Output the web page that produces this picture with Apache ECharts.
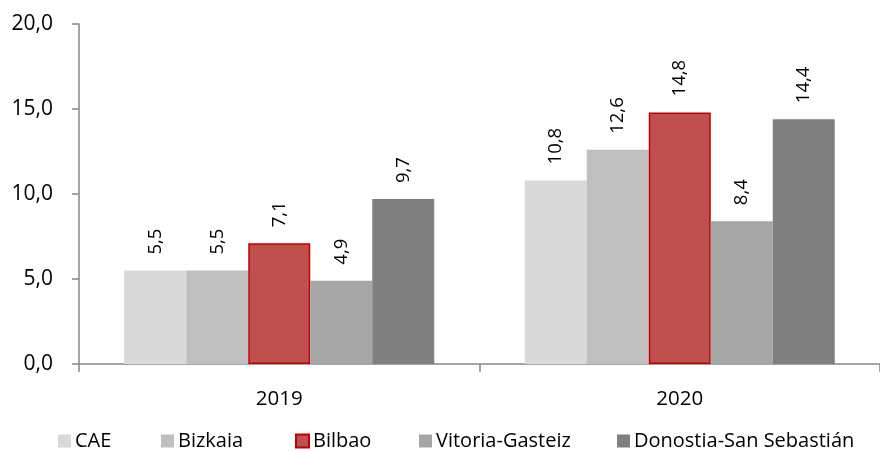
<!DOCTYPE html>
<html>
<head>
<meta charset="utf-8">
<script src="https://cdn.jsdelivr.net/npm/echarts@6/dist/echarts.min.js"></script>
<style>html,body{margin:0;padding:0;background:#fff;}#c{width:880px;height:451px;}</style>
</head>
<body>
<div id="c"></div>
<script>
const categories = ['2019', '2020'];
const seriesNames = ['CAE', 'Bizkaia', 'Bilbao', 'Vitoria-Gasteiz', 'Donostia-San Sebastián'];
const cae = [5.5, 10.8];
const bizkaia = [5.5, 12.6];
const bilbao = [7.1, 14.8];
const vitoria = [4.9, 8.4];
const donostia = [9.7, 14.4];
const yTicks = [0, 5, 10, 15, 20];

const colors = ['#d9d9d9', '#bfbfbf', '#c0504d', '#a6a6a6', '#7f7f7f'];
const values = [cae, bizkaia, bilbao, vitoria, donostia];
const legendLeft = [58, 161, 295, 419, 617];
const FONT = 'Open Sans';

const chart = echarts.init(document.getElementById('c'), null, {renderer: 'canvas'});
const fmt = v => v.toFixed(1).replace('.', ',');

chart.setOption({
  animation: false,
  textStyle: {fontFamily: FONT},
  grid: {left: 79, top: 24, width: 806, height: 340, containLabel: false},
  legend: seriesNames.map((name, i) => ({
    left: legendLeft[i], top: 431, padding: 0,
    itemWidth: 13, itemHeight: 13, itemGap: 0,
    icon: 'rect',
    textStyle: {fontFamily: FONT, fontSize: 20, color: '#000', padding: [0, 0, 0, -1]},
    data: [name]
  })),
  xAxis: {
    type: 'category', data: categories,
    axisLine: {lineStyle: {color: '#868686', width: 1.5}},
    axisTick: {show: true, length: 8, lineStyle: {color: '#868686', width: 1.5}},
    axisLabel: {fontFamily: FONT, fontSize: 20.5, color: '#000', margin: 25}
  },
  yAxis: {
    type: 'value', min: yTicks[0], max: yTicks[yTicks.length - 1], interval: 5,
    splitLine: {show: false},
    axisLine: {show: true, lineStyle: {color: '#868686', width: 1.5}},
    axisTick: {show: true, inside: false, length: 7, lineStyle: {color: '#868686', width: 1.5}},
    axisLabel: {fontFamily: FONT, fontSize: 21, color: '#000', margin: 26, formatter: v => fmt(v)}
  },
  series: seriesNames.map((name, i) => ({
    name: name, type: 'bar', data: values[i],
    barWidth: 62, barGap: '0%',
    itemStyle: i === 2 ? {color: colors[i], borderColor: '#c00000', borderWidth: 1.5} : {color: colors[i]},
    label: {
      show: true, position: 'top', rotate: 90, align: 'left', verticalAlign: 'middle',
      distance: 16, fontFamily: FONT, fontSize: 18.5, color: '#000',
      formatter: p => fmt(p.value)
    }
  }))
});
</script>
</body>
</html>
